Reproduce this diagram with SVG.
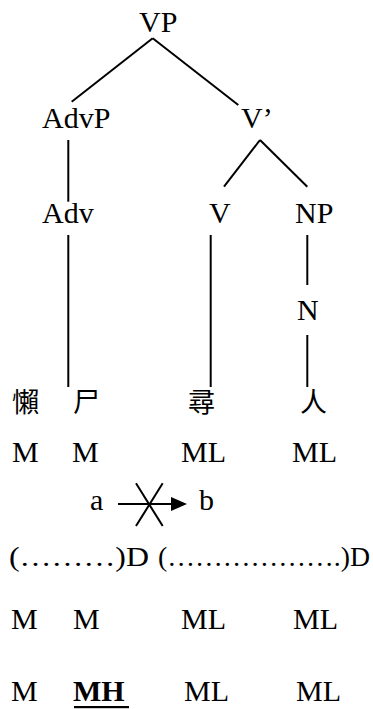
<svg xmlns="http://www.w3.org/2000/svg" width="373" height="709" viewBox="0 0 373 709">
  <style>
    .t { font-family: "Liberation Serif", Tinos, "DejaVu Serif", "Noto Serif", "Times New Roman", serif; font-size: 30px; fill: #000; }
    .d { font-size: 28px; }
    .b { font-weight: bold; }
    .cjk { font-family: "Noto Sans CJK TC", "Noto Sans CJK SC", sans-serif; font-size: 27px; fill: #000; }
    .e { stroke: #000; stroke-width: 2; fill: none; }
  </style>
  <rect width="373" height="709" fill="#fff"/>

  <!-- tree nodes -->
  <g id="VP"><text class="t" x="139" y="32">VP</text></g>
  <g id="AdvP"><text class="t" x="42" y="128">AdvP</text></g>
  <g id="Vbar"><text class="t" x="241" y="128">V’</text></g>
  <g id="Adv"><text class="t" x="42" y="223">Adv</text></g>
  <g id="V"><text class="t" x="209" y="223">V</text></g>
  <g id="NP"><text class="t" x="295" y="223">NP</text></g>
  <g id="N"><text class="t" x="297" y="320">N</text></g>

  <!-- syllables -->
  <g id="syllables">
    <text class="cjk" x="12" y="412">懶</text>
    <text class="cjk" x="73" y="412">尸</text>
    <text class="cjk" x="188" y="412">尋</text>
    <text class="cjk" x="300" y="412">人</text>
  </g>

  <!-- connectors -->
  <g id="connectors" class="e">
    <line x1="152.7" y1="38.3" x2="71.7" y2="101.7"/>
    <line x1="152.7" y1="38.3" x2="238.3" y2="105"/>
    <line x1="68.3" y1="140" x2="68.3" y2="201.7"/>
    <line x1="260" y1="140" x2="224" y2="186.7"/>
    <line x1="260" y1="140" x2="307.3" y2="186.7"/>
    <line x1="68.3" y1="235" x2="68.3" y2="387"/>
    <line x1="210.7" y1="235" x2="210.7" y2="387"/>
    <line x1="307.3" y1="235" x2="307.3" y2="285"/>
    <line x1="307.3" y1="335" x2="307.3" y2="387"/>
  </g>

  <!-- underlying tones -->
  <g id="tones1">
    <text class="t" x="12" y="462">M</text>
    <text class="t" x="72" y="462">M</text>
    <text class="t" x="181" y="462">ML</text>
    <text class="t" x="292" y="462">ML</text>
  </g>

  <!-- blocked a -> b -->
  <g id="rule">
    <text class="t" x="90" y="510">a</text>
    <line class="e" x1="118" y1="504" x2="173" y2="504"/>
    <polygon points="171,497 187,504 171,511" fill="#000"/>
    <line class="e" x1="136" y1="483.3" x2="162.7" y2="526"/>
    <line class="e" x1="162.7" y1="483.3" x2="136" y2="526"/>
    <text class="t" x="199" y="510">b</text>
  </g>

  <!-- domains -->
  <g id="domains">
    <text class="t d" x="9" y="566" textLength="140" lengthAdjust="spacingAndGlyphs">(………)D</text>
    <text class="t d" x="158" y="566" textLength="212" lengthAdjust="spacingAndGlyphs">(……………….)D</text>
  </g>

  <g id="tones2">
    <text class="t" x="11" y="629">M</text>
    <text class="t" x="73" y="629">M</text>
    <text class="t" x="181" y="629">ML</text>
    <text class="t" x="293" y="629">ML</text>
  </g>

  <g id="tones3">
    <text class="t" x="11" y="701">M</text>
    <text class="t b" x="73" y="701">MH</text>
    <rect x="74" y="706" width="55" height="2.2" fill="#000"/>
    <text class="t" x="184" y="701">ML</text>
    <text class="t" x="296" y="701">ML</text>
  </g>
</svg>
